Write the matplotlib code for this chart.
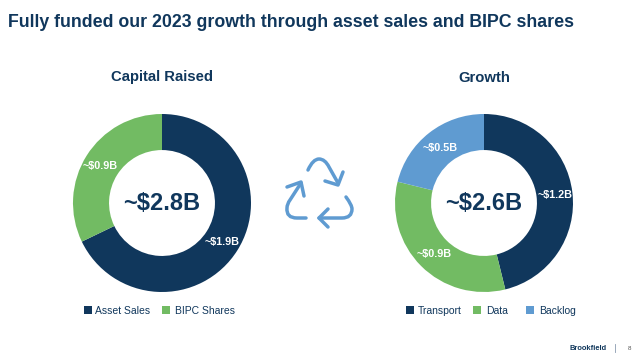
import matplotlib
matplotlib.use('Agg')
import matplotlib.pyplot as plt
from matplotlib.patches import PathPatch, Rectangle
from matplotlib.path import Path

plt.rcParams['font.family'] = ['Liberation Sans', 'DejaVu Sans']

navy = '#10375c'
green = '#72bb63'
blue = '#5f9bd1'
W, H = 640, 364

title = 'Fully funded our 2023 growth through asset sales and BIPC shares'

capital_labels = ['Asset Sales', 'BIPC Shares']
capital_values = [1.9, 0.9]
capital_text = ['~$1.9B', '~$0.9B']
capital_total = '~$2.8B'

growth_labels = ['Transport', 'Data', 'Backlog']
growth_values = [1.2, 0.85, 0.55]
growth_text = ['~$1.2B', '~$0.9B', '~$0.5B']
growth_total = '~$2.6B'

fig = plt.figure(figsize=(W / 100, H / 100), dpi=100, facecolor='white')

# overlay in pixel coords for the slide furniture
bg = fig.add_axes([0, 0, 1, 1])
bg.set_xlim(0, W)
bg.set_ylim(H, 0)
bg.axis('off')


def donut(cx, cy, r, values, colors, labels, lab_pos, total):
    ax = fig.add_axes([(cx - r) / W, 1 - (cy + r) / H, 2 * r / W, 2 * r / H])
    ax.pie(values, colors=colors, startangle=90, counterclock=False, radius=1,
           wedgeprops=dict(width=0.405, linewidth=0))
    ax.set_xlim(-1, 1)
    ax.set_ylim(-1, 1)
    for lab, (x, y) in zip(labels, lab_pos):
        bg.text(x, y, lab, color='white', fontsize=7.8, fontweight='bold',
                ha='center', va='center', zorder=5)
    ax.text(0, 0, total, color=navy, fontsize=17, fontweight='bold',
            ha='center', va='center')


donut(162, 203, 89, capital_values, [navy, green], capital_text,
      [(222, 242), (100, 166)], capital_total)
donut(484, 203, 89, growth_values, [navy, green, blue], growth_text,
      [(555, 195), (434, 254), (440, 148)], growth_total)
bg.set_zorder(3)

bg.text(8, 22.5, title, color=navy, fontsize=12.8, fontweight='bold', va='center')
bg.text(162, 77.5, 'Capital Raised', color=navy, fontsize=10.7, fontweight='bold',
        ha='center', va='center')
bg.text(484, 77.5, 'Growth', color=navy, fontsize=10.7, fontweight='bold',
        ha='center', va='center')


def legend(items):
    for x, tx, lab, c in items:
        bg.add_patch(Rectangle((x, 306), 8, 8, color=c, lw=0))
        bg.text(tx, 311.5, lab, color=navy, fontsize=7.5, va='center')


legend([(84, 95, capital_labels[0], navy), (162, 175, capital_labels[1], green)])
legend([(406, 418, growth_labels[0], navy), (473, 486, growth_labels[1], green),
        (526, 539, growth_labels[2], blue)])

# recycle icon
M, L, Q = Path.MOVETO, Path.LINETO, Path.CURVE3
arrows = [
    ([(308, 170), (313, 159), (319, 159), (325, 159), (329, 167), (338, 183)],
     [M, Q, Q, Q, Q, L]),
    ([(343, 172), (338, 185), (325, 181)], [M, L, L]),
    ([(346, 197), (352, 205), (352, 209), (352, 218), (342, 218), (319, 218)],
     [M, Q, Q, Q, Q, L]),
    ([(328, 209), (319, 218), (328, 227)], [M, L, L]),
    ([(306, 218), (297, 218), (286, 218), (287, 208), (287, 204), (290, 200), (301, 183)],
     [M, L, Q, Q, Q, Q, L]),
    ([(287, 187), (301, 182), (304, 196)], [M, L, L]),
]
for pts, codes in arrows:
    bg.add_patch(PathPatch(Path(pts, codes), fill=False, edgecolor=blue, lw=2.5,
                           capstyle='round', joinstyle='round'))

bg.text(607, 348, 'Brookfield', color=navy, fontsize=5.4, fontweight='bold',
        ha='right', va='center')
bg.plot([615, 615], [344, 352], color='#8a9bb0', lw=0.6)
bg.text(629, 348, '8', color='#555555', fontsize=4.5, ha='center', va='center')

fig.savefig('out.png', dpi=100)
